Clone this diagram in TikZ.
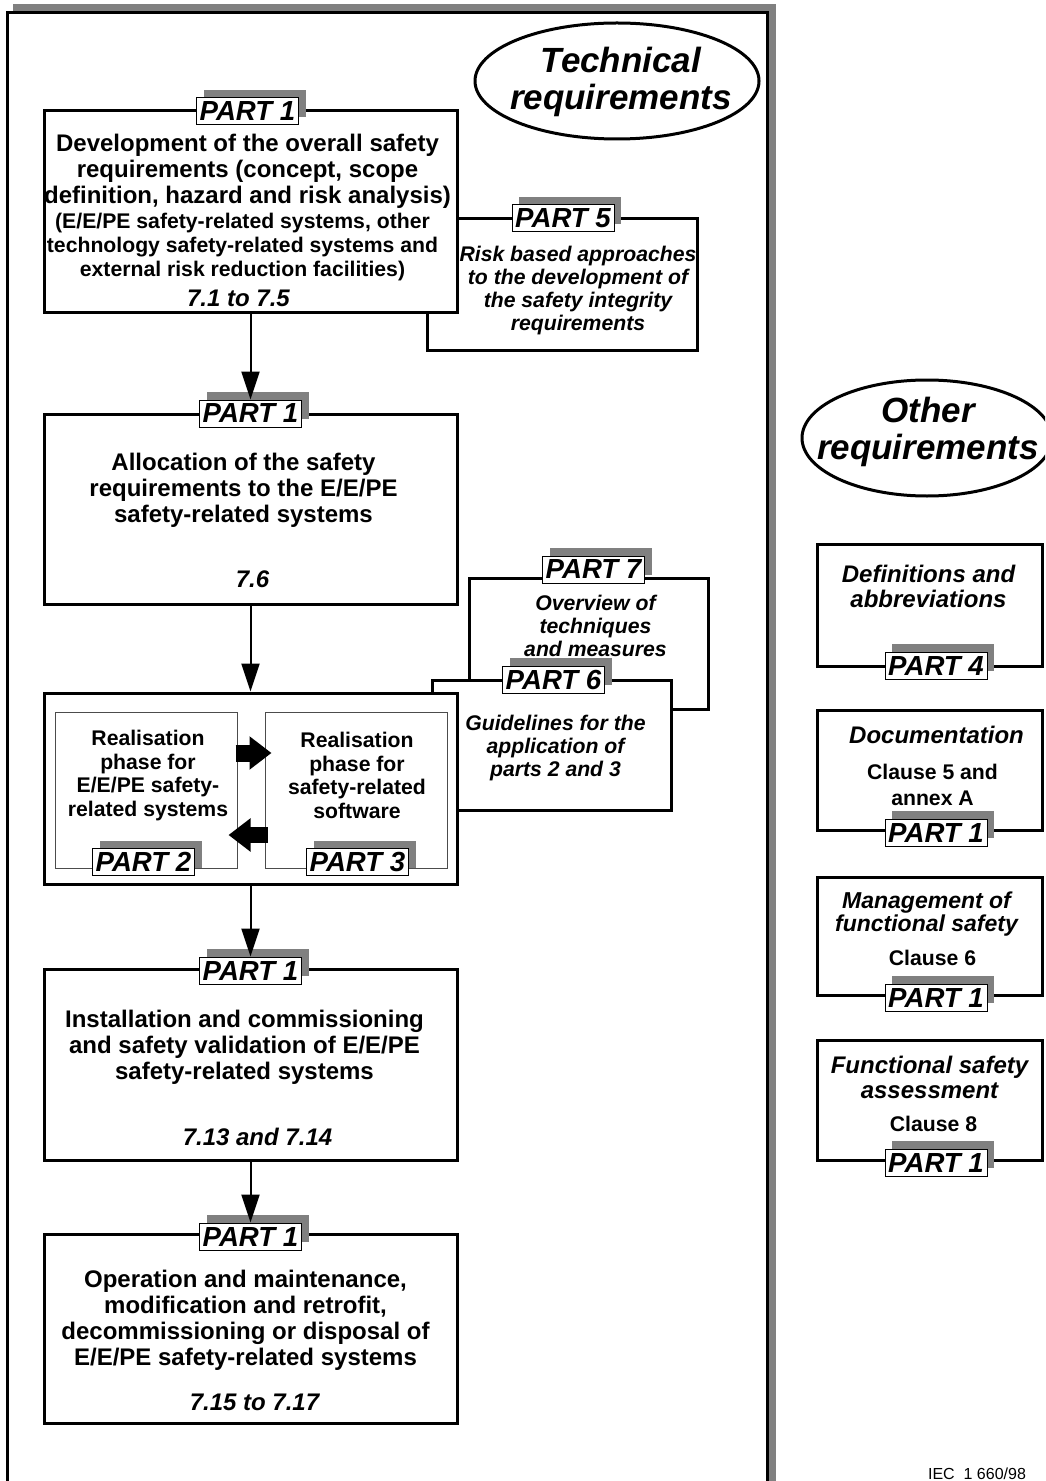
\documentclass[tikz,border=0pt]{standalone}
\usepackage{fontspec}
\setmainfont{Liberation Sans}
\usetikzlibrary{arrows.meta,shapes.geometric,shadows}

\begin{document}
\begin{tikzpicture}[x=0.5pt,y=-0.5pt]
 \tikzstyle{box} = [draw,line width=1.5pt,fill=white,inner sep=0pt,minimum width=206.5pt]
 \tikzstyle{rbox} = [box,minimum width=112.5pt,minimum height=60pt]
 \tikzstyle{sub} = [draw=black!70,line width=0.5pt,fill=white,inner sep=0pt,minimum width=91pt,minimum height=78pt]
 \tikzstyle{tab} = [draw,line width=0.5pt,fill=white,inner sep=0pt,minimum width=51pt,minimum height=13.5pt,font=\bfseries\itshape\fontsize{13.8}{13.8}\selectfont,general shadow={fill=gray,shadow xshift=3.5pt,shadow yshift=4pt}]
 \tikzstyle{oval} = [draw,ellipse,line width=1.5pt,inner sep=0pt]
 \tikzstyle{ovaltext} = [align=center,inner sep=0pt,font=\bfseries\itshape\fontsize{17.5}{18.5}\selectfont]
 \tikzstyle{big} = [align=center,inner sep=0pt,font=\bfseries\fontsize{12}{13}\selectfont]
 \tikzstyle{small} = [align=center,inner sep=0pt,font=\bfseries\fontsize{10.6}{12}\selectfont]
 \tikzstyle{mid} = [align=center,inner sep=0pt,font=\bfseries\fontsize{10.6}{11.75}\selectfont]
 \tikzstyle{num} = [inner sep=0pt,font=\bfseries\itshape\fontsize{12}{13}\selectfont]
 \tikzstyle{note} = [align=center,inner sep=0pt,font=\bfseries\itshape\fontsize{10.6}{11.5}\selectfont]
 \tikzstyle{rnote} = [align=center,inner sep=0pt,font=\bfseries\itshape\fontsize{12}{12.5}\selectfont]
 \tikzstyle{rsmall} = [align=center,inner sep=0pt,font=\bfseries\fontsize{10.6}{13}\selectfont]
 \tikzstyle{l} = [draw,line width=1pt,-{Triangle[length=14pt,width=9pt]}]
 \tikzstyle{fat} = [draw,-{Triangle[length=11pt,width=16pt]}]
 \useasboundingbox (0,0) rectangle (1045,1481);
 \clip (0,0) rectangle (1045,1481);
 % frame of the technical part
 \fill[gray] (13,4) rectangle (776,1500);
 \draw[line width=1.5pt,fill=white] (7,13) rectangle (767,1500);
 \node[oval,minimum width=142pt,minimum height=58pt] (Tech) at (617,81) {};
 \path (Tech.center) ++(4,1) node[ovaltext] (TechText) {Technical\\requirements};
 % overall safety requirements
 \node[box,minimum width=135pt,minimum height=65.5pt] (Risk) at (562,284.5) {};
 \path (Risk.north) ++(1,1) node[tab] (RiskTab) {PART 5}
 (Risk.north) ++(16,73) node[note] (RiskText) {Risk based approaches\\to the development of\\the safety integrity\\requirements};
 \node[box,minimum height=101pt] (Overall) at (250.5,212) {};
 \path (Overall.north) ++(-3,2) node[tab] (OverallTab) {PART 1}
 (Overall.north) ++(-3,62) node[big] (OverallText) {Development of the overall safety\\requirements (concept, scope\\definition, hazard and risk analysis)}
 (Overall.north) ++(-8,138) node[small] (OverallSub) {(E/E/PE safety-related systems, other\\technology safety-related systems and\\external risk reduction facilities)}
 (Overall.north) ++(-12,189) node[num] (OverallNum) {7.1 to 7.5};
 % allocation
 \node[box,minimum height=95pt] (Alloc) at (250.5,509) {};
 \path (Alloc.north) ++(0,1) node[tab] (AllocTab) {PART 1}
 (Alloc.north) ++(-7,78) node[big] (AllocText) {Allocation of the safety\\requirements to the E/E/PE\\safety-related systems}
 (Alloc.north) ++(2,167) node[num] (AllocNum) {7.6};
 % parts 7 and 6
 \node[box,minimum width=119.5pt,minimum height=65.5pt] (Overview) at (588.5,643.5) {};
 \path (Overview.north) ++(5,-7) node[tab] (OverviewTab) {PART 7}
 (Overview.north) ++(7,49) node[note] (OverviewText) {Overview of\\techniques\\and measures};
 \node[box,minimum width=119.5pt,minimum height=65pt] (Guide) at (551.5,745) {};
 \path (Guide.north) ++(2,1) node[tab] (GuideTab) {PART 6}
 (Guide.north) ++(4,70) node[note] (GuideText) {Guidelines for the\\application of\\parts 2 and 3};
 % realisation
 \node[box,minimum height=95.5pt] (Real) at (250.5,788.5) {};
 \node[sub] (RealSys) at (146,790) {};
 \node[sub] (RealSoft) at (356,790) {};
 \path (RealSys.north) ++(2,64) node[mid] (RealSysText) {Realisation\\phase for\\E/E/PE safety-\\related systems}
 (RealSoft.north) ++(1,64) node[mid] (RealSoftText) {Realisation\\phase for\\safety-related\\software}
 (RealSys.south) ++(-2.5,-6.5) node[tab] (RealSysTab) {PART 2}
 (RealSoft.south) ++(1.5,-6.5) node[tab] (RealSoftTab) {PART 3};
 \draw[fat,line width=8.5pt,shorten <=-1pt,shorten >=-3.5pt] ([yshift=18.5pt]RealSys.east) -- ([yshift=18.5pt]RealSoft.west);
 \draw[fat,line width=8pt,shorten <=-1.5pt,shorten >=-4.5pt] ([yshift=-22.5pt]RealSoft.west) -- ([yshift=-22.5pt]RealSys.east);
 % installation
 \node[box,minimum height=95.5pt] (Install) at (250.5,1064.5) {};
 \path (Install.north) ++(0,3) node[tab] (InstallTab) {PART 1}
 (Install.north) ++(-6,80) node[big] (InstallText) {Installation and commissioning\\and safety validation of E/E/PE\\safety-related systems}
 (Install.north) ++(7,169) node[num] (InstallNum) {7.13 and 7.14};
 % operation
 \node[box,minimum height=94.5pt] (Operate) at (250.5,1328.5) {};
 \path (Operate.north) ++(0,4) node[tab] (OperateTab) {PART 1}
 (Operate.north) ++(-5,88) node[big] (OperateText) {Operation and maintenance,\\modification and retrofit,\\decommissioning or disposal of\\E/E/PE safety-related systems}
 (Operate.north) ++(4,170) node[num] (OperateNum) {7.15 to 7.17};
 \path [l] (Overall.south) -- (AllocTab.north);
 \path [l] (Alloc.south) -- (Real.north);
 \path [l] (Real.south) -- (InstallTab.north);
 \path [l] (Install.south) -- (OperateTab.north);
 % other requirements
 \node[oval,minimum width=125pt,minimum height=58pt] (Other) at (927,438) {};
 \path (Other.center) ++(1,-6) node[ovaltext] (OtherText) {Other\\requirements};
 \node[rbox,minimum height=61pt] (Defs) at (929.5,605) {};
 \path (Defs.south) ++(6.5,-2) node[tab] (DefsTab) {PART 4}
 (Defs.north) ++(-1,44) node[rnote] (DefsText) {Definitions and\\abbreviations};
 \node[rbox] (Docs) at (929.5,770) {};
 \path (Docs.south) ++(6.5,1) node[tab] (DocsTab) {PART 1}
 (Docs.north) ++(7,26) node[rnote] (DocsText) {Documentation}
 (Docs.north) ++(3,76) node[rsmall] (DocsClause) {Clause 5 and\\annex A};
 \node[rbox,minimum height=59pt] (Manage) at (929.5,936) {};
 \path (Manage.south) ++(6.5,1) node[tab] (ManageTab) {PART 1}
 (Manage.north) ++(-3,39) node[rnote,font=\bfseries\itshape\fontsize{11.5}{11.5}\selectfont] (ManageText) {Management of\\functional safety}
 (Manage.north) ++(3,82) node[rsmall] (ManageClause) {Clause 6};
 \node[rbox] (Assess) at (929.5,1100) {};
 \path (Assess.south) ++(6.5,1) node[tab] (AssessTab) {PART 1}
 (Assess.north) ++(0,39) node[rnote] (AssessText) {Functional safety\\assessment}
 (Assess.north) ++(4,85) node[rsmall] (AssessClause) {Clause 8};
 \node[inner sep=0pt,font=\fontsize{8}{8}\selectfont] (IEC) at (977,1474) {IEC\ \ 1 660/98};
\end{tikzpicture}
\end{document}
